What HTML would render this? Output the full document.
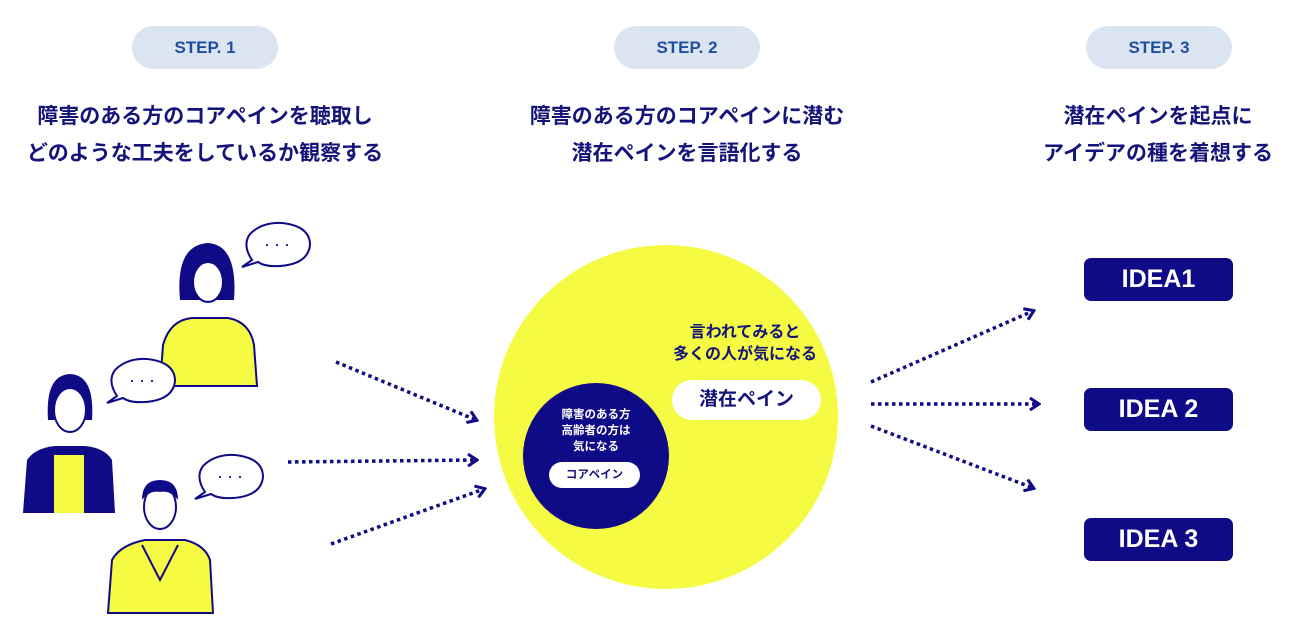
<!DOCTYPE html>
<html><head><meta charset="utf-8"><style>
body{margin:0;width:1300px;height:641px;background:#fff;position:relative;overflow:hidden;font-family:"Liberation Sans","Noto Sans CJK JP",sans-serif;}
.pill{position:absolute;top:26px;height:43px;width:146px;border-radius:22px;background:#dbe4f1;color:#1f4f9c;font-weight:bold;font-size:17px;line-height:43px;text-align:center;}
.h{position:absolute;top:98px;width:460px;text-align:center;color:#14147a;font-weight:bold;font-size:21px;line-height:37px;}
.idea{position:absolute;left:1084px;width:149px;height:43px;background:#0f0a85;border-radius:7px;color:#fff;font-size:25px;font-weight:bold;text-align:center;line-height:43px;}
</style></head><body>
<div class="pill" style="left:132px">STEP. 1</div>
<div class="pill" style="left:614px">STEP. 2</div>
<div class="pill" style="left:1086px">STEP. 3</div>
<div class="h" style="left:-25px">障害のある方のコアペインを聴取し<br>どのような工夫をしているか観察する</div>
<div class="h" style="left:457px">障害のある方のコアペインに潜む<br>潜在ペインを言語化する</div>
<div class="h" style="left:928px">潜在ペインを起点に<br>アイデアの種を着想する</div>
<svg width="1300" height="641" style="position:absolute;left:0;top:0">
<defs><marker id="a" markerWidth="12" markerHeight="14" refX="9" refY="7" orient="auto" markerUnits="userSpaceOnUse"><path d="M1,1 L10,7 L1,13" fill="none" stroke="#0f0a85" stroke-width="3"/></marker></defs>
<g stroke="#0f0a85" stroke-width="3.5" stroke-dasharray="3.5,3.5" fill="none" marker-end="url(#a)">
<line x1="336" y1="362" x2="476" y2="420"/><line x1="288" y1="462" x2="476" y2="460"/><line x1="331" y1="544" x2="484" y2="489"/>
<line x1="871" y1="382" x2="1033" y2="311"/><line x1="871" y1="404" x2="1038" y2="404"/><line x1="871" y1="426" x2="1033" y2="488"/>
</g>
<circle cx="666" cy="417" r="172" fill="#f5fb43"/>
<circle cx="596" cy="456" r="73" fill="#0f0a85"/>
<rect x="672" y="380" width="149" height="40" rx="20" fill="#fff"/>
<rect x="549" y="462" width="91" height="26" rx="13" fill="#fff"/>
<!-- woman top -->
<path d="M160,386 L163,345 Q170,320 192,318 L228,318 Q250,322 254,345 L257,386Z" fill="#f5fb43" stroke="#0f0a85" stroke-width="2"/>
<path d="M180,300 Q175,245 208,243 Q238,245 234,300Z" fill="#0f0a85"/>
<ellipse cx="208" cy="282" rx="15" ry="20" fill="#fff" stroke="#0f0a85" stroke-width="2"/>
<!-- woman left -->
<path d="M23,513 L27,460 Q35,448 55,446 L85,446 Q105,448 112,460 L115,513Z" fill="#0f0a85"/>
<rect x="54" y="455" width="30" height="58" fill="#f5fb43"/>
<path d="M48,420 Q45,375 70,374 Q95,375 92,420Z" fill="#0f0a85"/>
<ellipse cx="70" cy="410" rx="16" ry="22" fill="#fff" stroke="#0f0a85" stroke-width="2"/>
<!-- man -->
<path d="M108,613 L112,560 Q120,545 145,540 L185,540 Q205,545 210,560 L213,613Z" fill="#f5fb43" stroke="#0f0a85" stroke-width="2"/>
<ellipse cx="160" cy="507" rx="16" ry="22" fill="#fff" stroke="#0f0a85" stroke-width="2"/>
<path d="M142,500 Q142,480 160,480 Q178,480 178,500 Q170,490 160,492 Q150,490 142,500Z" fill="#0f0a85"/>
<path d="M142,545 L160,580 L178,545" fill="none" stroke="#0f0a85" stroke-width="2"/>
<g stroke="#0f0a85" stroke-width="2" fill="#fff">
<path d="M252,260 Q242,245 250,234 Q262,222 282,223 Q310,226 310,245 Q308,264 280,266 Q265,267 258,262 L242,267 Z"/>
<path d="M117,396 Q107,381 115,370 Q127,358 147,359 Q175,362 175,381 Q173,400 145,402 Q130,403 123,398 L107,403 Z"/>
<path d="M205,492 Q195,477 203,466 Q215,454 235,455 Q263,458 263,477 Q261,496 233,498 Q218,499 211,494 L195,499 Z"/>
</g>
<g fill="#0f0a85" font-size="10"><text x="262" y="249">・・・</text><text x="127" y="385">・・・</text><text x="215" y="481">・・・</text></g>
</svg>
<div style="position:absolute;left:640px;top:322px;width:210px;text-align:center;color:#14147a;font-weight:bold;font-size:16px;line-height:22px">言われてみると<br>多くの人が気になる</div>
<div style="position:absolute;left:672px;top:380px;width:149px;text-align:center;color:#14147a;font-weight:bold;font-size:19px;line-height:40px">潜在ペイン</div>
<div style="position:absolute;left:536px;top:407px;width:120px;text-align:center;color:#fff;font-weight:bold;font-size:11.5px;line-height:16px">障害のある方<br>高齢者の方は<br>気になる</div>
<div style="position:absolute;left:549px;top:462px;width:91px;text-align:center;color:#14147a;font-weight:bold;font-size:11.5px;line-height:26px">コアペイン</div>
<div class="idea" style="top:258px">IDEA1</div>
<div class="idea" style="top:388px">IDEA 2</div>
<div class="idea" style="top:518px">IDEA 3</div>
</body></html>
